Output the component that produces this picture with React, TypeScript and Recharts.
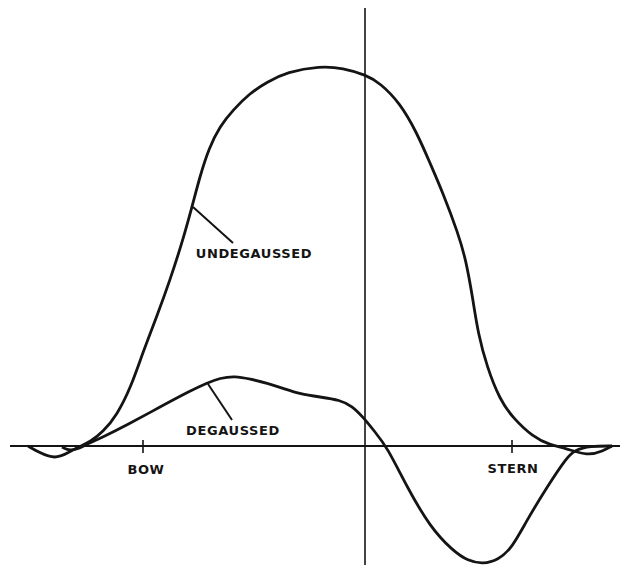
import { LineChart, Line, XAxis, YAxis, ReferenceLine, ReferenceDot } from "recharts";

// positions along the ship (midship = 0), and field strength
const undegaussedPos = [
  -33.7, -32.5, -31.0, -29.7, -28.5, -27.5, -26.2, -24.8, -23.4, -22.2, -20.8, -19.5,
  -18.3, -17.3, -16.5, -15.6, -14.5, -13.2, -11.5, -9.8, -7.8, -4.5, -2.2, 0.1, 1.5, 3.5,
  5.2, 6.5, 7.8, 9.3, 10.1, 10.8, 11.3, 12.2, 13.5, 14.8, 16.8, 18.5, 20.0, 22.3, 23.8,
  24.7,
];
const undegaussedField = [
  0, -0.7, -1.3, -0.7, 0, 0.4, 1.4, 3.1, 5.9, 9.4, 13.0, 16.6, 20.3, 23.9, 27.0, 29.8,
  32.0, 33.6, 35.3, 36.4, 37.4, 38.0, 37.8, 37.1, 36.3, 34.3, 31.3, 28.3, 25.3, 21.3,
  18.6, 14.6, 11.3, 7.9, 4.6, 2.8, 0.9, 0.1, -0.2, -1.0, -0.5, 0,
];

const degaussedPos = [
  -30.3, -29.5, -28.5, -27.8, -26.2, -23.8, -20.5, -17.5, -15.8, -14.5, -13.0, -11.5,
  -9.8, -8.0, -6.5, -4.5, -2.5, -1.3, -0.2, 1.0, 2.2, 4.2, 6.5, 8.8, 10.3, 11.8, 13.3,
  14.7, 16.2, 18.2, 20.2, 21.0, 22.5, 24.7,
];
const degaussedField = [
  -0.1, -0.5, -0.2, 0.2, 0.9, 2.1, 3.9, 5.5, 6.3, 6.8, 7.0, 6.7, 6.3, 5.7, 5.2, 4.9, 4.6,
  4.0, 2.9, 1.4, -0.1, -4.1, -8.1, -10.5, -11.5, -11.8, -11.4, -10.2, -7.4, -4.1, -1.1,
  -0.4, 0, 0,
];

const stationNames = ["BOW", "STERN"];
const stationPos = [-22.2, 14.7];

const undegaussed = undegaussedPos.map((x, i) => ({ x, y: undegaussedField[i] }));
const degaussed = degaussedPos.map((x, i) => ({ x, y: degaussedField[i] }));

const ink = "#141414";
const labelFont = {
  fontFamily: "DejaVu Sans",
  fontWeight: "bold" as const,
  fontSize: 13,
  letterSpacing: 0.6,
  fill: ink,
};

const textAt = (value: string) => (p: any) => (
  <text x={p.cx} y={p.cy} textAnchor="middle" dominantBaseline="central" {...labelFont}>
    {value}
  </text>
);

export default function App() {
  return (
    <div style={{ position: "absolute", left: 0, top: 0, background: "#fff" }}>
      <LineChart width={625} height={565} margin={{ top: 8, right: 5, bottom: 0, left: 10 }}>
        <XAxis type="number" dataKey="x" domain={[-35.5, 25.5]} hide allowDataOverflow />
        <YAxis type="number" domain={[-11.9, 43.8]} hide allowDataOverflow />

        <ReferenceLine y={0} stroke={ink} strokeWidth={2} />
        <ReferenceLine x={0} stroke={ink} strokeWidth={1.6} />

        {stationPos.map((x) => (
          <ReferenceLine
            key={x}
            segment={[
              { x, y: 0.6 },
              { x, y: -0.7 },
            ]}
            stroke={ink}
            strokeWidth={1.6}
          />
        ))}

        <Line
          data={undegaussed}
          dataKey="y"
          type="basis"
          stroke={ink}
          strokeWidth={2.8}
          dot={false}
          isAnimationActive={false}
        />
        <Line
          data={degaussed}
          dataKey="y"
          type="basis"
          stroke={ink}
          strokeWidth={2.8}
          dot={false}
          isAnimationActive={false}
        />

        {/* leader lines to the labels */}
        <ReferenceLine
          segment={[
            { x: -17.2, y: 23.9 },
            { x: -13.2, y: 20.3 },
          ]}
          stroke={ink}
          strokeWidth={2}
        />
        <ReferenceLine
          segment={[
            { x: -15.7, y: 6.2 },
            { x: -13.3, y: 2.6 },
          ]}
          stroke={ink}
          strokeWidth={2}
        />

        <ReferenceDot x={-11.1} y={19.3} r={0} shape={textAt("UNDEGAUSSED")} />
        <ReferenceDot x={-13.2} y={1.6} r={0} shape={textAt("DEGAUSSED")} />
        <ReferenceDot x={stationPos[0] + 0.3} y={-2.3} r={0} shape={textAt(stationNames[0])} />
        <ReferenceDot x={stationPos[1] + 0.1} y={-2.2} r={0} shape={textAt(stationNames[1])} />
      </LineChart>
    </div>
  );
}
